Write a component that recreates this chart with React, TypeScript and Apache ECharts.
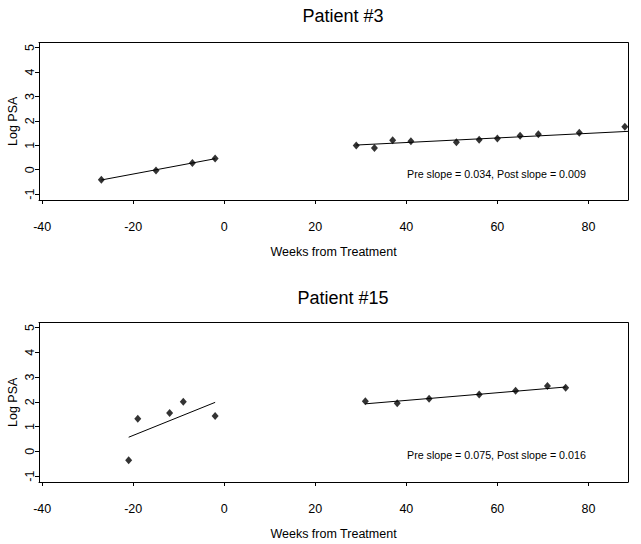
import React, { useEffect, useRef } from "react";
import * as echarts from "echarts";

const xTicks = [-40, -20, 0, 20, 40, 60, 80];
const yTicks = [-1, 0, 1, 2, 3, 4, 5];

const p3PreWeeks = [-27, -15, -7, -2];
const p3PreLogPsa = [-0.41, -0.03, 0.27, 0.46];
const p3PostWeeks = [29, 33, 37, 41, 51, 56, 60, 65, 69, 78, 88];
const p3PostLogPsa = [0.99, 0.89, 1.21, 1.17, 1.12, 1.23, 1.28, 1.39, 1.45, 1.51, 1.76];
const p3PreFit = [[-27, -0.42], [-2, 0.45]];
const p3PostFit = [[29, 1.01], [88.7, 1.57]];

const p15PreWeeks = [-21, -19, -12, -9, -2];
const p15PreLogPsa = [-0.36, 1.32, 1.55, 2.0, 1.43];
const p15PostWeeks = [31, 38, 45, 56, 64, 71, 75];
const p15PostLogPsa = [2.02, 1.94, 2.13, 2.3, 2.45, 2.64, 2.57];
const p15PreFit = [[-21, 0.57], [-2, 1.98]];
const p15PostFit = [[31, 1.92], [75, 2.6]];

const titles = ["Patient #3", "Patient #15"];
const notes = ["Pre slope = 0.034, Post slope = 0.009", "Pre slope = 0.075, Post slope = 0.016"];

const FONT = "'Liberation Sans', Arial, Helvetica, sans-serif";
const X_MIN = -40.7;
const X_MAX = 88.7;
const Y_MIN = -1.24;
const Y_MAX = 5.2;

const zip = (xs: number[], ys: number[]) => xs.map((x, i) => [x, ys[i]]);

export default function App() {
  const ref = useRef<HTMLDivElement>(null);
  useEffect(() => {
    if (!ref.current) return;
    const chart = echarts.init(ref.current, undefined, { renderer: "svg" });
    const lineStyle = { color: "#000", width: 1 };
    const xAxisMain = (gridIndex: number) => ({
      type: "value",
      gridIndex,
      position: "bottom",
      min: X_MIN,
      max: X_MAX,
      axisLine: { show: true, onZero: false, lineStyle },
      splitLine: { show: false },
      axisTick: { show: true, customValues: xTicks, length: 4, lineStyle },
      axisLabel: { customValues: xTicks, fontSize: 12.5, color: "#000", margin: 20, fontFamily: FONT },
      name: "Weeks from Treatment",
      nameLocation: "middle",
      nameGap: 45,
      nameMoveOverlap: false,
      nameTextStyle: { fontSize: 12.5, color: "#000", fontFamily: FONT },
    });
    const xAxisTop = (gridIndex: number) => ({
      type: "value",
      gridIndex,
      position: "top",
      min: X_MIN,
      max: X_MAX,
      axisLine: { show: true, onZero: false, lineStyle },
      splitLine: { show: false },
      axisTick: { show: false },
      axisLabel: { show: false },
    });
    const yAxisMain = (gridIndex: number) => ({
      type: "value",
      gridIndex,
      position: "left",
      min: Y_MIN,
      max: Y_MAX,
      axisLine: { show: true, onZero: false, lineStyle },
      splitLine: { show: false },
      axisTick: { show: true, customValues: yTicks, length: 4, lineStyle },
      axisLabel: { customValues: yTicks, fontSize: 12.5, color: "#000", margin: 3, rotate: 90, fontFamily: FONT },
      name: "Log PSA",
      nameLocation: "middle",
      nameGap: 20,
      nameMoveOverlap: false,
      nameTextStyle: { fontSize: 12.5, color: "#000", fontFamily: FONT },
    });
    const yAxisRight = (gridIndex: number) => ({
      type: "value",
      gridIndex,
      position: "right",
      min: Y_MIN,
      max: Y_MAX,
      axisLine: { show: true, onZero: false, lineStyle },
      splitLine: { show: false },
      axisTick: { show: false },
      axisLabel: { show: false },
    });
    const scatter = (idx: number, data: number[][]) => ({
      type: "scatter",
      xAxisIndex: idx,
      yAxisIndex: idx,
      data,
      symbol: "diamond",
      symbolSize: [7, 8],
      itemStyle: { color: "#000" },
      silent: true,
    });
    const fit = (idx: number, data: number[][]) => ({
      type: "line",
      xAxisIndex: idx,
      yAxisIndex: idx,
      data,
      showSymbol: false,
      symbol: "none",
      lineStyle,
      silent: true,
    });
    chart.setOption({
      animation: false,
      backgroundColor: "#fff",
      title: [
        { text: titles[0], left: 338, top: 2, textAlign: "center", textStyle: { fontSize: 18, fontWeight: "normal", color: "#000", fontFamily: FONT } },
        { text: titles[1], left: 338, top: 284, textAlign: "center", textStyle: { fontSize: 18, fontWeight: "normal", color: "#000", fontFamily: FONT } },
      ],
      grid: [
        { left: 39, right: 13, top: 42.7, height: 157.3, outerBoundsMode: "none", containLabel: false },
        { left: 39, right: 13, top: 322.7, height: 159.3, outerBoundsMode: "none", containLabel: false },
      ],
      xAxis: [xAxisMain(0), xAxisMain(1), xAxisTop(0), xAxisTop(1)],
      yAxis: [yAxisMain(0), yAxisMain(1), yAxisRight(0), yAxisRight(1)],
      series: [
        scatter(0, zip(p3PreWeeks, p3PreLogPsa)),
        scatter(0, zip(p3PostWeeks, p3PostLogPsa)),
        fit(0, p3PreFit),
        fit(0, p3PostFit),
        scatter(1, zip(p15PreWeeks, p15PreLogPsa)),
        scatter(1, zip(p15PostWeeks, p15PostLogPsa)),
        fit(1, p15PreFit),
        fit(1, p15PostFit),
      ],
      graphic: [
        { type: "text", left: 407, top: 168, style: { text: notes[0], fontSize: 10.7, fill: "#000", fontFamily: FONT } },
        { type: "text", left: 407, top: 449, style: { text: notes[1], fontSize: 10.7, fill: "#000", fontFamily: FONT } },
      ],
    });
    return () => chart.dispose();
  }, []);
  return (
    <div
      ref={ref}
      style={{ position: "fixed", left: 0, top: 0, width: 641, height: 544, background: "#fff" }}
    />
  );
}
